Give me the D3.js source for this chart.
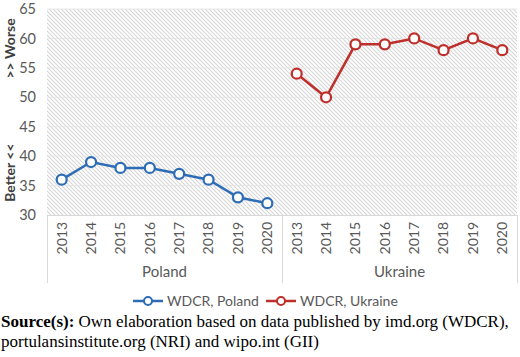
<!DOCTYPE html>
<html><head><meta charset="utf-8">
<script src="https://cdn.jsdelivr.net/npm/d3@7"></script>
<style>body{margin:0;background:#fff}svg{display:block}</style>
</head><body>
<script>
const years = ["2013","2014","2015","2016","2017","2018","2019","2020"];
const groups = ["Poland","Ukraine"];
const poland = [36,39,38,38,37,36,33,32];
const ukraine = [54,50,59,59,60,58,60,58];
const yTicks = [30,35,40,45,50,55,60,65];
const seriesNames = ["WDCR, Poland","WDCR, Ukraine"];
const colors = ["#2E6DB6","#BE2F2B"];

const W=520,H=357;
const svg=d3.select("body").append("svg").attr("width",W).attr("height",H);
const plot={l:47,r:517,t:9,b:215};
const cats=[];groups.forEach(g=>years.forEach(y=>cats.push(g+"|"+y)));
const x=d3.scaleBand().domain(cats).range([plot.l,plot.r]).padding(0);
const y=d3.scaleLinear().domain([30,65]).range([plot.b,plot.t]);

const defs=svg.append("defs");
const pat=defs.append("pattern").attr("id","hatch").attr("patternUnits","userSpaceOnUse").attr("width",4).attr("height",4);
pat.append("rect").attr("width",4).attr("height",4).attr("fill","#ffffff");
pat.append("path").attr("d","M-1,-1L5,5M-1,3L1,5M3,-1L5,1").attr("stroke","#d6d6d6").attr("stroke-width",1.1);

svg.append("rect").attr("x",plot.l).attr("y",plot.t).attr("width",plot.r-plot.l).attr("height",plot.b-plot.t).attr("fill","url(#hatch)");

// gridlines
svg.append("g").selectAll("line").data(yTicks.slice(1)).join("line")
  .attr("x1",plot.l).attr("x2",plot.r).attr("y1",d=>y(d)).attr("y2",d=>y(d))
  .attr("stroke","#e6e6e6").attr("stroke-width",1);

// y axis labels
const yAxis=d3.axisLeft(y).tickValues(yTicks).tickSize(0).tickPadding(11);
const ya=svg.append("g").attr("transform",`translate(${plot.l},0)`).call(yAxis);
ya.select(".domain").remove();
ya.selectAll("text").attr("font-family","Lato, 'Open Sans', sans-serif").attr("font-size",14.5).attr("fill","#595959");

// y axis titles
svg.append("text").attr("transform",`translate(10,${y(37.2)}) rotate(-90)`).attr("text-anchor","middle").attr("dy","0.35em")
  .attr("font-family","Lato, sans-serif").attr("font-weight","bold").attr("font-size",14).attr("fill","#404040")
  .text("Better <<");
svg.append("text").attr("transform",`translate(10,${y(58.3)}) rotate(-90)`).attr("text-anchor","middle").attr("dy","0.35em")
  .attr("font-family","Lato, sans-serif").attr("font-weight","bold").attr("font-size",14).attr("fill","#404040")
  .text(">> Worse");

// x axis
svg.append("line").attr("x1",plot.l).attr("x2",plot.r).attr("y1",plot.b+0.5).attr("y2",plot.b+0.5).attr("stroke","#d9d9d9");
const xAxis=d3.axisBottom(x).tickSize(0).tickFormat(d=>d.split("|")[1]);
const xa=svg.append("g").attr("transform",`translate(0,${plot.b})`).call(xAxis);
xa.select(".domain").remove();
xa.selectAll("text").attr("transform","rotate(-90)").attr("text-anchor","end")
  .attr("x",-7).attr("y",0).attr("dy","0.35em")
  .attr("font-family","Lato, sans-serif").attr("font-size",14).attr("fill","#595959");

// group separators
const seps=[0,8,16].map(i=> i<16 ? x(cats[i]) : plot.r);
svg.append("g").selectAll("line").data(seps).join("line")
  .attr("x1",d=>d+0.5).attr("x2",d=>d+0.5).attr("y1",plot.b).attr("y2",283)
  .attr("stroke","#d9d9d9");
groups.forEach((g,i)=>{
  const a=x(g+"|"+years[0]), b=x(g+"|"+years[7])+x.bandwidth();
  svg.append("text").attr("x",(a+b)/2).attr("y",277).attr("text-anchor","middle")
    .attr("font-family","Lato, sans-serif").attr("font-size",15).attr("fill","#595959").text(g);
});

// series
const series=[poland,ukraine];
series.forEach((vals,si)=>{
  const pts=vals.map((v,i)=>[x(groups[si]+"|"+years[i])+x.bandwidth()/2,y(v)]);
  svg.append("path").attr("d",d3.line()(pts)).attr("fill","none").attr("stroke",colors[si]).attr("stroke-width",2.5);
  svg.append("g").selectAll("circle").data(pts).join("circle")
    .attr("cx",d=>d[0]).attr("cy",d=>d[1]).attr("r",5).attr("fill","#fff")
    .attr("stroke",colors[si]).attr("stroke-width",2.25);
});

// legend
const legX=[133,266];
seriesNames.forEach((n,i)=>{
  const g=svg.append("g").attr("transform",`translate(${legX[i]},301)`);
  g.append("line").attr("x1",0).attr("x2",30).attr("stroke",colors[i]).attr("stroke-width",2.5);
  g.append("circle").attr("cx",15).attr("r",4).attr("fill","#fff").attr("stroke",colors[i]).attr("stroke-width",2);
  g.append("text").attr("x",34).attr("dy","0.35em").attr("font-family","Lato, sans-serif").attr("font-size",14).attr("fill","#595959").text(n);
});

// source
const src=svg.append("text").attr("x",1).attr("y",327).attr("font-family","'Liberation Serif','Times New Roman',serif").attr("font-size",17).attr("fill","#000");
src.append("tspan").attr("font-weight","bold").text("Source(s):");
src.append("tspan").text(" Own elaboration based on data published by imd.org (WDCR),");
svg.append("text").attr("x",1).attr("y",347).attr("font-family","'Liberation Serif','Times New Roman',serif").attr("font-size",17).attr("fill","#000")
  .text("portulansinstitute.org (NRI) and wipo.int (GII)");
</script>
</body></html>
